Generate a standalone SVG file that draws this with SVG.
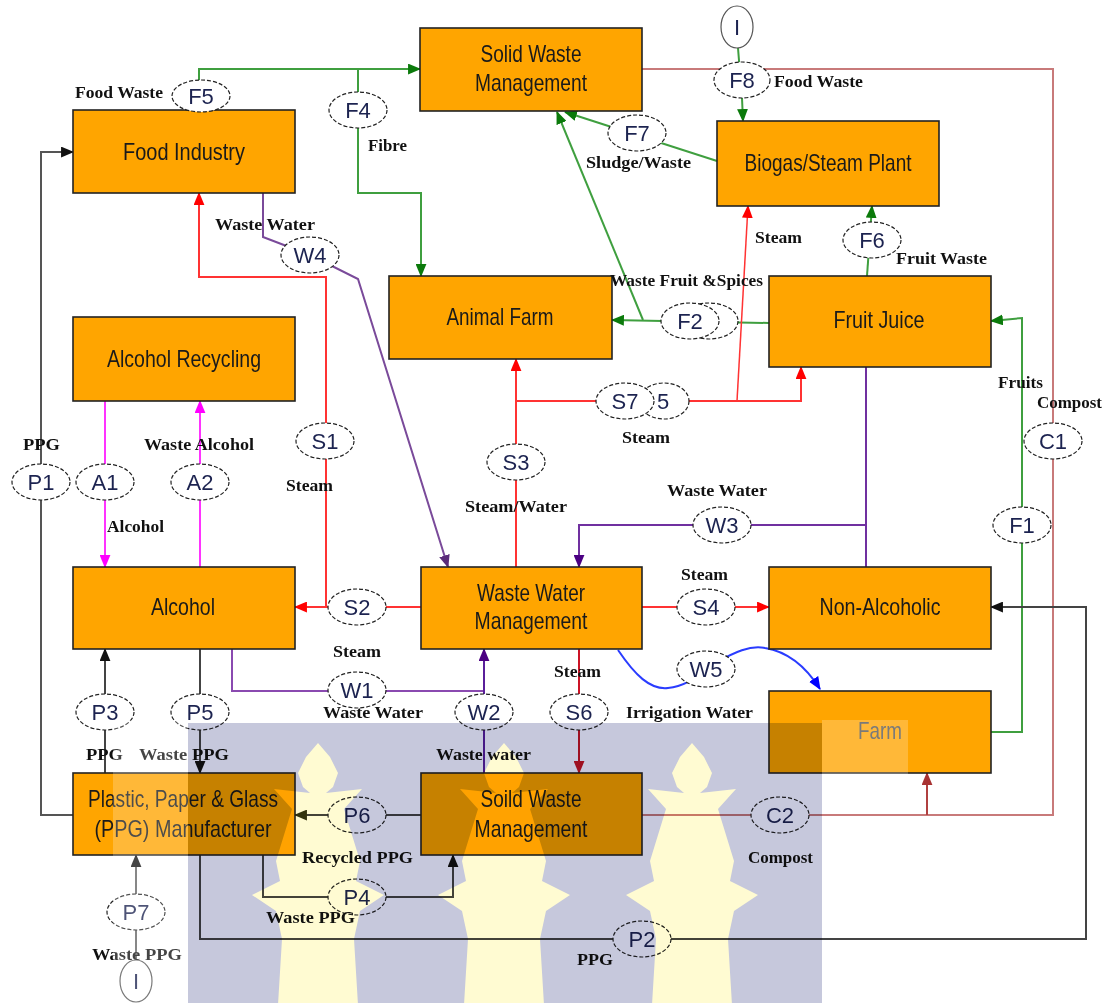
<svg xmlns="http://www.w3.org/2000/svg" xmlns:xlink="http://www.w3.org/1999/xlink" width="1109" height="1003" viewBox="0 0 1109 1003">
<style>
.box{fill:#FFA500;stroke:#222;stroke-width:1.6}
.nl{font-family:"Liberation Sans Narrow","Liberation Sans",Arial,sans-serif;font-size:24px;fill:#1a1a1a;text-anchor:middle}
.el{fill:#fff;stroke:#222;stroke-width:1.2;stroke-dasharray:4 2}
.io{fill:#fff;stroke:#555;stroke-width:1.2}
.et{font-family:"Liberation Sans Narrow","Liberation Sans",Arial,sans-serif;font-size:22px;fill:#1c2350;text-anchor:middle}
.tl{font-family:"Liberation Serif","Times New Roman",serif;font-size:17px;font-weight:bold;fill:#111}
.c{fill:none;stroke-width:2}
.g{stroke:#3f9f3f}.r{stroke:#ff3333}.dr{stroke:#cc1426}.br{stroke:#c87a7a}.p{stroke:#7a4a9a}.pi{stroke:#5a1f9a}.b{stroke:#2a3cff}.k{stroke:#444}.m{stroke:#ff33ff}
</style>
<defs>
<marker id="ag" viewBox="0 0 12 10" refX="11" refY="5" markerWidth="13" markerHeight="11" markerUnits="userSpaceOnUse" orient="auto"><path d="M0,0 L12,5 L0,10 z" fill="#0b7a0b"/></marker>
<marker id="ar" viewBox="0 0 12 10" refX="11" refY="5" markerWidth="13" markerHeight="11" markerUnits="userSpaceOnUse" orient="auto"><path d="M0,0 L12,5 L0,10 z" fill="#ff0000"/></marker>
<marker id="adr" viewBox="0 0 12 10" refX="11" refY="5" markerWidth="13" markerHeight="11" markerUnits="userSpaceOnUse" orient="auto"><path d="M0,0 L12,5 L0,10 z" fill="#cc1426"/></marker>
<marker id="abr" viewBox="0 0 12 10" refX="11" refY="5" markerWidth="13" markerHeight="11" markerUnits="userSpaceOnUse" orient="auto"><path d="M0,0 L12,5 L0,10 z" fill="#a83232"/></marker>
<marker id="ap" viewBox="0 0 12 10" refX="11" refY="5" markerWidth="13" markerHeight="11" markerUnits="userSpaceOnUse" orient="auto"><path d="M0,0 L12,5 L0,10 z" fill="#5b2c7a"/></marker>
<marker id="api" viewBox="0 0 12 10" refX="11" refY="5" markerWidth="13" markerHeight="11" markerUnits="userSpaceOnUse" orient="auto"><path d="M0,0 L12,5 L0,10 z" fill="#4b0082"/></marker>
<marker id="ab" viewBox="0 0 12 10" refX="11" refY="5" markerWidth="13" markerHeight="11" markerUnits="userSpaceOnUse" orient="auto"><path d="M0,0 L12,5 L0,10 z" fill="#0000ff"/></marker>
<marker id="ak" viewBox="0 0 12 10" refX="11" refY="5" markerWidth="13" markerHeight="11" markerUnits="userSpaceOnUse" orient="auto"><path d="M0,0 L12,5 L0,10 z" fill="#111"/></marker>
<marker id="ao" viewBox="0 0 12 10" refX="11" refY="5" markerWidth="13" markerHeight="11" markerUnits="userSpaceOnUse" orient="auto"><path d="M0,0 L12,5 L0,10 z" fill="#333310"/></marker>
<marker id="am" viewBox="0 0 12 10" refX="11" refY="5" markerWidth="13" markerHeight="11" markerUnits="userSpaceOnUse" orient="auto"><path d="M0,0 L12,5 L0,10 z" fill="#ff00ff"/></marker>
<path id="tree" d="M0,0 L12,14 L20,30 L15,44 L8,50 L44,46 L26,66 L34,92 L42,118 L38,138 L66,152 L42,168 L36,196 L40,262 L-40,262 L-36,196 L-42,168 L-66,152 L-38,138 L-42,118 L-34,92 L-26,66 L-44,46 L-8,50 L-15,44 L-20,30 L-12,14 Z"/>
</defs>
<rect width="1109" height="1003" fill="#fff"/>

<g id="connectors">
<path class="c g" d="M199,80 L199,69 L420,69" marker-end="url(#ag)"/>
<path class="c g" d="M358,69 L358,193 L421,193 L421,276" marker-end="url(#ag)"/>
<path class="c g" d="M738,48 L742,98 L743,121" marker-end="url(#ag)"/>
<path class="c g" d="M717,161 L565,112" marker-end="url(#ag)"/>
<path class="c g" d="M769,323 L612,320" marker-end="url(#ag)"/>
<path class="c g" d="M643,320 L557,112" marker-end="url(#ag)"/>
<path class="c g" d="M867,276 L872,206" marker-end="url(#ag)"/>
<path class="c g" d="M991,732 L1022,732 L1022,318 L991,321" marker-end="url(#ag)"/>
<path class="c br" d="M642,69 L1053,69 L1053,815 L642,815"/>
<path class="c br" d="M927,815 L927,773" style="stroke:#b04040" marker-end="url(#abr)"/>
<path class="c r" d="M421,607 L295,607" marker-end="url(#ar)"/>
<path class="c r" d="M326,607 L326,277 L199,277 L199,193" marker-end="url(#ar)"/>
<path class="c r" d="M516,567 L516,359" marker-end="url(#ar)"/>
<path class="c r" d="M516,401 L801,401 L801,367" marker-end="url(#ar)"/>
<path class="c r" style="stroke-width:1.5" d="M737,401 L748,206" marker-end="url(#ar)"/>
<path class="c r" d="M642,607 L769,607" marker-end="url(#ar)"/>
<path class="c dr" d="M579,649 L579,773" marker-end="url(#adr)"/>
<path class="c p" d="M263,193 L263,237 L310,255 L358,279 L448,567" marker-end="url(#ap)"/>
<path class="c pi" style="stroke:#7030a0" d="M866,367 L866,567"/>
<path class="c pi" style="stroke:#7030a0" d="M866,525 L579,525 L579,567" marker-end="url(#api)"/>
<path class="c pi" style="stroke:#8a4ab0" d="M232,649 L232,691 L484,691"/>
<path class="c pi" d="M484,773 L484,691 L484,649" marker-end="url(#api)"/>
<path class="c b" d="M618,650 C635,675 650,690 668,688 C690,686 700,672 715,663 C735,652 750,645 765,648 C790,652 808,670 820,689" marker-end="url(#ab)"/>
<path class="c k" style="stroke:#555" d="M73,815 L41,815 L41,152 L73,152" marker-end="url(#ak)"/>
<path class="c k" d="M105,773 L105,649" marker-end="url(#ak)"/>
<path class="c k" d="M200,649 L200,773" marker-end="url(#ak)"/>
<path class="c k" d="M421,815 L295,815" marker-end="url(#ao)"/>
<path class="c k" d="M263,855 L263,897 L453,897 L453,855" marker-end="url(#ak)"/>
<path class="c k" d="M200,855 L200,939 L1086,939 L1086,607 L991,607" marker-end="url(#ak)"/>
<path class="c k" style="stroke:#666" d="M136,959 L136,855" marker-end="url(#ak)"/>
<path class="c m" d="M105,401 L105,567" marker-end="url(#am)"/>
<path class="c m" d="M200,567 L200,401" marker-end="url(#am)"/>
</g>

<g id="food-industry"><rect class="box" x="73" y="110" width="222" height="83"/><text class="nl" x="184" y="160" textLength="122" lengthAdjust="spacingAndGlyphs">Food Industry</text></g>
<g id="solid-waste-top"><rect class="box" x="420" y="28" width="222" height="83"/><text class="nl" x="531" y="62" textLength="101" lengthAdjust="spacingAndGlyphs">Solid Waste</text><text class="nl" x="531" y="91" textLength="112" lengthAdjust="spacingAndGlyphs">Management</text></g>
<g id="biogas"><rect class="box" x="717" y="121" width="222" height="85"/><text class="nl" x="828" y="171" textLength="167" lengthAdjust="spacingAndGlyphs">Biogas/Steam Plant</text></g>
<g id="animal-farm"><rect class="box" x="389" y="276" width="223" height="83"/><text class="nl" x="500" y="325" textLength="107" lengthAdjust="spacingAndGlyphs">Animal Farm</text></g>
<g id="fruit-juice"><rect class="box" x="769" y="276" width="222" height="91"/><text class="nl" x="879" y="328" textLength="91" lengthAdjust="spacingAndGlyphs">Fruit Juice</text></g>
<g id="alcohol-recycling"><rect class="box" x="73" y="317" width="222" height="84"/><text class="nl" x="184" y="367" textLength="154" lengthAdjust="spacingAndGlyphs">Alcohol Recycling</text></g>
<g id="alcohol"><rect class="box" x="73" y="567" width="222" height="82"/><text class="nl" x="183" y="615" textLength="64" lengthAdjust="spacingAndGlyphs">Alcohol</text></g>
<g id="waste-water"><rect class="box" x="421" y="567" width="221" height="82"/><text class="nl" x="531" y="601" textLength="108" lengthAdjust="spacingAndGlyphs">Waste Water</text><text class="nl" x="531" y="629" textLength="113" lengthAdjust="spacingAndGlyphs">Management</text></g>
<g id="non-alcoholic"><rect class="box" x="769" y="567" width="222" height="82"/><text class="nl" x="880" y="615" textLength="121" lengthAdjust="spacingAndGlyphs">Non-Alcoholic</text></g>
<g id="farm"><rect class="box" x="769" y="691" width="222" height="82"/><text class="nl" x="880" y="739" style="fill:#555" textLength="44" lengthAdjust="spacingAndGlyphs">Farm</text></g>
<g id="ppg"><rect class="box" x="73" y="773" width="222" height="82"/><text class="nl" x="183" y="807" textLength="190" lengthAdjust="spacingAndGlyphs">Plastic, Paper &amp; Glass</text><text class="nl" x="183" y="837" textLength="177" lengthAdjust="spacingAndGlyphs">(PPG) Manufacturer</text></g>
<g id="solid-waste-bottom"><rect class="box" x="421" y="773" width="221" height="82"/><text class="nl" x="531" y="807" textLength="101" lengthAdjust="spacingAndGlyphs">Soild Waste</text><text class="nl" x="531" y="837" textLength="113" lengthAdjust="spacingAndGlyphs">Management</text></g>

<g id="flow-labels">
<g id="F5"><ellipse class="el" cx="201" cy="96" rx="29" ry="16"/><text class="et" x="201" y="104">F5</text></g>
<g id="F4"><ellipse class="el" cx="358" cy="110" rx="29" ry="18"/><text class="et" x="358" y="118">F4</text></g>
<g id="I-top"><ellipse class="io" cx="737" cy="27" rx="16" ry="21"/><text class="et" x="737" y="35">I</text></g>
<g id="F8"><ellipse class="el" cx="742" cy="80" rx="28" ry="18"/><text class="et" x="742" y="88">F8</text></g>
<g id="F7"><ellipse class="el" cx="637" cy="133" rx="29" ry="18"/><text class="et" x="637" y="141">F7</text></g>
<g id="F6"><ellipse class="el" cx="872" cy="240" rx="29" ry="18"/><text class="et" x="872" y="248">F6</text></g>
<g id="F3"><ellipse class="el" cx="709" cy="321" rx="29" ry="18"/></g>
<g id="F2"><ellipse class="el" cx="690" cy="321" rx="29" ry="18"/><text class="et" x="690" y="329">F2</text></g>
<g id="S5"><ellipse class="el" cx="664" cy="401" rx="25" ry="18"/><text class="et" x="663" y="409">5</text></g>
<g id="S7"><ellipse class="el" cx="625" cy="401" rx="29" ry="18"/><text class="et" x="625" y="409">S7</text></g>
<g id="S3"><ellipse class="el" cx="516" cy="462" rx="29" ry="18"/><text class="et" x="516" y="470">S3</text></g>
<g id="W3"><ellipse class="el" cx="722" cy="525" rx="29" ry="18"/><text class="et" x="722" y="533">W3</text></g>
<g id="S1"><ellipse class="el" cx="325" cy="441" rx="29" ry="18"/><text class="et" x="325" y="449">S1</text></g>
<g id="P1"><ellipse class="el" cx="41" cy="482" rx="29" ry="18"/><text class="et" x="41" y="490">P1</text></g>
<g id="A1"><ellipse class="el" cx="105" cy="482" rx="29" ry="18"/><text class="et" x="105" y="490">A1</text></g>
<g id="A2"><ellipse class="el" cx="200" cy="482" rx="29" ry="18"/><text class="et" x="200" y="490">A2</text></g>
<g id="C1"><ellipse class="el" cx="1053" cy="441" rx="29" ry="18"/><text class="et" x="1053" y="449">C1</text></g>
<g id="F1"><ellipse class="el" cx="1022" cy="525" rx="29" ry="18"/><text class="et" x="1022" y="533">F1</text></g>
<g id="W4"><ellipse class="el" cx="310" cy="255" rx="29" ry="18"/><text class="et" x="310" y="263">W4</text></g>
<g id="S2"><ellipse class="el" cx="357" cy="607" rx="29" ry="18"/><text class="et" x="357" y="615">S2</text></g>
<g id="S4"><ellipse class="el" cx="706" cy="607" rx="29" ry="18"/><text class="et" x="706" y="615">S4</text></g>
<g id="W1"><ellipse class="el" cx="357" cy="690" rx="29" ry="18"/><text class="et" x="357" y="698">W1</text></g>
<g id="W2"><ellipse class="el" cx="484" cy="712" rx="29" ry="18"/><text class="et" x="484" y="720">W2</text></g>
<g id="S6"><ellipse class="el" cx="579" cy="712" rx="29" ry="18"/><text class="et" x="579" y="720">S6</text></g>
<g id="W5"><ellipse class="el" cx="706" cy="669" rx="29" ry="18"/><text class="et" x="706" y="677">W5</text></g>
<g id="P3"><ellipse class="el" cx="105" cy="712" rx="29" ry="18"/><text class="et" x="105" y="720">P3</text></g>
<g id="P5"><ellipse class="el" cx="200" cy="712" rx="29" ry="18"/><text class="et" x="200" y="720">P5</text></g>
<g id="P6"><ellipse class="el" cx="357" cy="815" rx="29" ry="18"/><text class="et" x="357" y="823">P6</text></g>
<g id="P4"><ellipse class="el" cx="357" cy="897" rx="29" ry="18"/><text class="et" x="357" y="905">P4</text></g>
<g id="P7"><ellipse class="el" cx="136" cy="912" rx="29" ry="18"/><text class="et" x="136" y="920">P7</text></g>
<g id="I-bottom"><ellipse class="io" cx="136" cy="981" rx="16" ry="21"/><text class="et" x="136" y="989">I</text></g>
<g id="C2"><ellipse class="el" cx="780" cy="815" rx="29" ry="18"/><text class="et" x="780" y="823">C2</text></g>
<g id="P2"><ellipse class="el" cx="642" cy="939" rx="29" ry="18"/><text class="et" x="642" y="947">P2</text></g>
</g>

<g id="texts">
<text class="tl" x="75" y="98" textLength="88" lengthAdjust="spacingAndGlyphs">Food Waste</text>
<text class="tl" x="368" y="151" textLength="39" lengthAdjust="spacingAndGlyphs">Fibre</text>
<text class="tl" x="215" y="230" textLength="100" lengthAdjust="spacingAndGlyphs">Waste Water</text>
<text class="tl" x="774" y="87" textLength="89" lengthAdjust="spacingAndGlyphs">Food Waste</text>
<text class="tl" x="586" y="168" textLength="105" lengthAdjust="spacingAndGlyphs">Sludge/Waste</text>
<text class="tl" x="755" y="243" textLength="47" lengthAdjust="spacingAndGlyphs">Steam</text>
<text class="tl" x="896" y="264" textLength="91" lengthAdjust="spacingAndGlyphs">Fruit Waste</text>
<text class="tl" x="610" y="286" textLength="153" lengthAdjust="spacingAndGlyphs">Waste Fruit &amp;Spices</text>
<text class="tl" x="998" y="388" textLength="45" lengthAdjust="spacingAndGlyphs">Fruits</text>
<text class="tl" x="1037" y="408" textLength="65" lengthAdjust="spacingAndGlyphs">Compost</text>
<text class="tl" x="23" y="450" textLength="37" lengthAdjust="spacingAndGlyphs">PPG</text>
<text class="tl" x="144" y="450" textLength="110" lengthAdjust="spacingAndGlyphs">Waste Alcohol</text>
<text class="tl" x="286" y="491" textLength="47" lengthAdjust="spacingAndGlyphs">Steam</text>
<text class="tl" x="107" y="532" textLength="57" lengthAdjust="spacingAndGlyphs">Alcohol</text>
<text class="tl" x="622" y="443" textLength="48" lengthAdjust="spacingAndGlyphs">Steam</text>
<text class="tl" x="465" y="512" textLength="102" lengthAdjust="spacingAndGlyphs">Steam/Water</text>
<text class="tl" x="667" y="496" textLength="100" lengthAdjust="spacingAndGlyphs">Waste Water</text>
<text class="tl" x="681" y="580" textLength="47" lengthAdjust="spacingAndGlyphs">Steam</text>
<text class="tl" x="333" y="657" textLength="48" lengthAdjust="spacingAndGlyphs">Steam</text>
<text class="tl" x="554" y="677" textLength="47" lengthAdjust="spacingAndGlyphs">Steam</text>
<text class="tl" x="626" y="718" textLength="127" lengthAdjust="spacingAndGlyphs">Irrigation Water</text>
<text class="tl" x="323" y="718" textLength="100" lengthAdjust="spacingAndGlyphs">Waste Water</text>
<text class="tl" x="436" y="760" textLength="95" lengthAdjust="spacingAndGlyphs">Waste water</text>
<text class="tl" x="86" y="760" textLength="37" lengthAdjust="spacingAndGlyphs">PPG</text>
<text class="tl" x="139" y="760" textLength="90" lengthAdjust="spacingAndGlyphs">Waste PPG</text>
<text class="tl" x="302" y="863" textLength="111" lengthAdjust="spacingAndGlyphs">Recycled PPG</text>
<text class="tl" x="266" y="923" textLength="89" lengthAdjust="spacingAndGlyphs">Waste PPG</text>
<text class="tl" x="748" y="863" textLength="65" lengthAdjust="spacingAndGlyphs">Compost</text>
<text class="tl" x="577" y="965" textLength="36" lengthAdjust="spacingAndGlyphs">PPG</text>
<text class="tl" x="92" y="960" textLength="90" lengthAdjust="spacingAndGlyphs">Waste PPG</text>
</g>

<g id="watermark">
<rect x="113" y="720" width="75" height="283" fill="#fff" opacity="0.22"/>
<rect x="822" y="720" width="86" height="54" fill="#fff" opacity="0.22"/>
<g style="mix-blend-mode:multiply">
<rect x="188" y="723" width="634" height="280" fill="#c6c8dc"/>
<g fill="#fffbd2">
<use xlink:href="#tree" x="318" y="743"/>
<use xlink:href="#tree" x="504" y="743"/>
<use xlink:href="#tree" x="692" y="743"/>
</g>
</g>
</g>
</svg>
